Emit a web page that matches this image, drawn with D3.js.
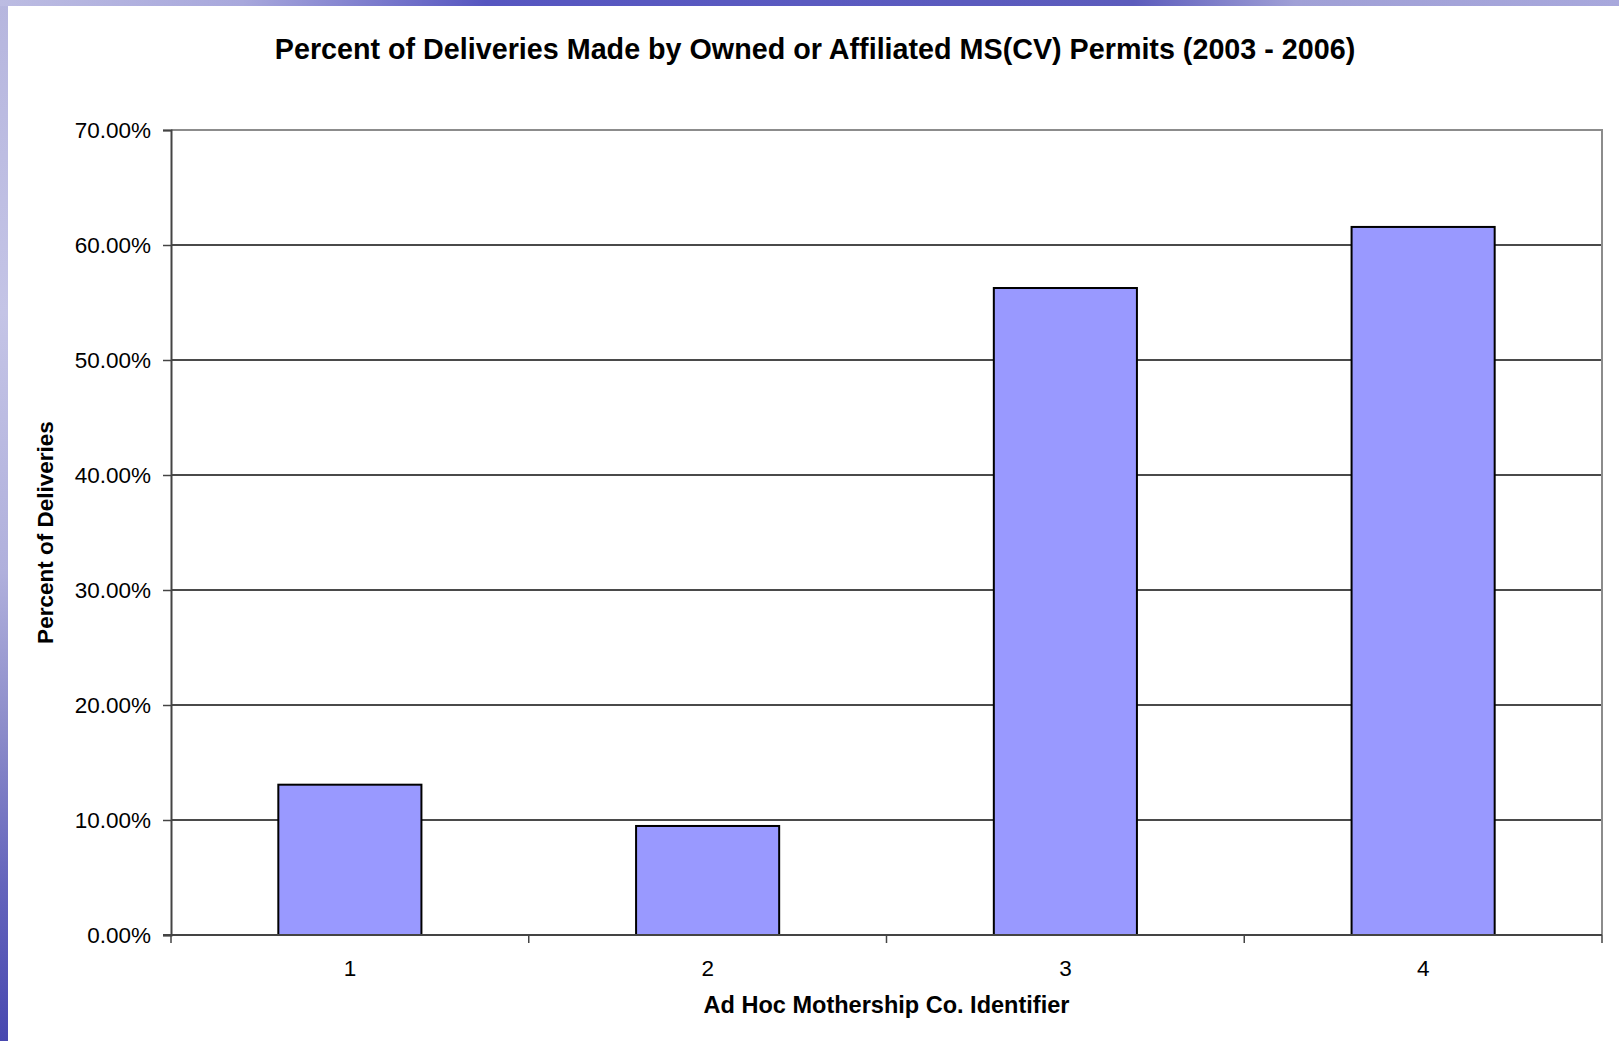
<!DOCTYPE html>
<html><head><meta charset="utf-8">
<script src="https://cdn.jsdelivr.net/npm/d3@7"></script>
<style>html,body{margin:0;padding:0;background:#fff;overflow:hidden}</style>
</head><body>
<svg id="c" width="1619" height="1041"></svg>
<script>
const categories = ["1", "2", "3", "4"];
const values = [0.1307, 0.0948, 0.5626, 0.6157];
const yTicks = [0, 0.1, 0.2, 0.3, 0.4, 0.5, 0.6, 0.7];
const titleText = "Percent of Deliveries Made by Owned or Affiliated MS(CV) Permits (2003 - 2006)";
const xTitle = "Ad Hoc Mothership Co. Identifier";
const yTitle = "Percent of Deliveries";

const svg = d3.select("#c");
const font = "'Liberation Sans', Arial, sans-serif";
const defs = svg.append("defs");

// background border gradients
const gl = defs.append("linearGradient").attr("id","gl").attr("x1",0).attr("y1",0).attr("x2",0).attr("y2",1);
[["0%","#b6b6de"],["30%","#c4c4e6"],["55%","#b0b0dc"],["70%","#8c8cca"],["85%","#6464bc"],["100%","#4848b0"]]
  .forEach(([o,c])=>gl.append("stop").attr("offset",o).attr("stop-color",c));
const gt = defs.append("linearGradient").attr("id","gt").attr("x1",0).attr("y1",0).attr("x2",1).attr("y2",0);
[["0%","#bcbce2"],["15%","#a8a8dc"],["30%","#5656c0"],["50%","#5a5ac0"],["70%","#5c5cbc"],["80%","#a0a0d6"],["100%","#a8a8dc"]]
  .forEach(([o,c])=>gt.append("stop").attr("offset",o).attr("stop-color",c));
svg.append("rect").attr("x",0).attr("y",0).attr("width",8).attr("height",1041).attr("fill","url(#gl)");
svg.append("rect").attr("x",0).attr("y",0).attr("width",1619).attr("height",6).attr("fill","url(#gt)");

const L = 171, R = 1602, T = 130, B = 935;
const x = d3.scaleBand().domain(categories).range([L, R]).paddingInner(0.6).paddingOuter(0.3);
const xb = d3.scaleBand().domain(categories).range([L, R]).padding(0);
const y = d3.scaleLinear().domain([0, 0.7]).range([B, T]);

// gridlines
svg.append("g").selectAll("line").data(yTicks.filter(d=>d>0 && d<0.7)).join("line")
  .attr("x1", L).attr("x2", R).attr("y1", d=>y(d)).attr("y2", d=>y(d))
  .attr("stroke", "#4a4a4a").attr("stroke-width", 1.2).attr("shape-rendering","crispEdges");

// plot border top/right
svg.append("path").attr("d", `M${L},${T}H${R}V${B}`).attr("fill","none")
  .attr("stroke","#8c8c8c").attr("stroke-width",2);

// bars
svg.append("g").selectAll("rect").data(values).join("rect")
  .attr("x", (d,i)=>x(categories[i])).attr("width", x.bandwidth())
  .attr("y", d=>y(d)).attr("height", d=>B - y(d))
  .attr("fill", "#9999ff").attr("stroke", "#000").attr("stroke-width", 2);

// y axis
const yAxis = d3.axisLeft(y).tickValues(yTicks).tickFormat(d=>(d*100).toFixed(2)+"%").tickSize(8).tickPadding(12);
const ga = svg.append("g").attr("transform", `translate(${L},0)`).call(yAxis);
ga.select(".domain").attr("stroke","#444").attr("stroke-width",2);
ga.selectAll(".tick line").attr("stroke","#444").attr("stroke-width",1.5);
ga.selectAll(".tick text").attr("font-family", font).attr("font-size", 22.5).attr("fill","#000");

// x axis
const xAxis = d3.axisBottom(x).tickSize(0).tickPadding(25);
const gx = svg.append("g").attr("transform", `translate(0,${B})`).call(xAxis);
gx.select(".domain").remove();
gx.selectAll(".tick text").attr("font-family", font).attr("font-size", 22.5).attr("fill","#000");
svg.append("line").attr("x1",L-8).attr("x2",R).attr("y1",B).attr("y2",B).attr("stroke","#444").attr("stroke-width",2);
const bounds = categories.map(c=>xb(c)).concat([R]);
svg.append("g").selectAll("line").data(bounds).join("line")
  .attr("x1",d=>d).attr("x2",d=>d).attr("y1",B).attr("y2",B+8)
  .attr("stroke","#444").attr("stroke-width",1.5);

function fit(sel, w) {
  const len = sel.node().getComputedTextLength();
  const fs = parseFloat(sel.attr("font-size"));
  sel.attr("font-size", fs * w / len);
}

const t = svg.append("text").attr("x", 815).attr("y", 59).attr("text-anchor","middle")
  .attr("font-family", font).attr("font-weight","bold").attr("font-size", 24).text(titleText);
fit(t, 1081);

const xt = svg.append("text").attr("x", (L+R)/2).attr("y", 1013).attr("text-anchor","middle")
  .attr("font-family", font).attr("font-weight","bold").attr("font-size", 21).text(xTitle);
fit(xt, 366);

const yt = svg.append("text").attr("transform", `translate(53,${(T+B)/2}) rotate(-90)`).attr("text-anchor","middle")
  .attr("font-family", font).attr("font-weight","bold").attr("font-size", 21).text(yTitle);
fit(yt, 223);
</script>
</body></html>
